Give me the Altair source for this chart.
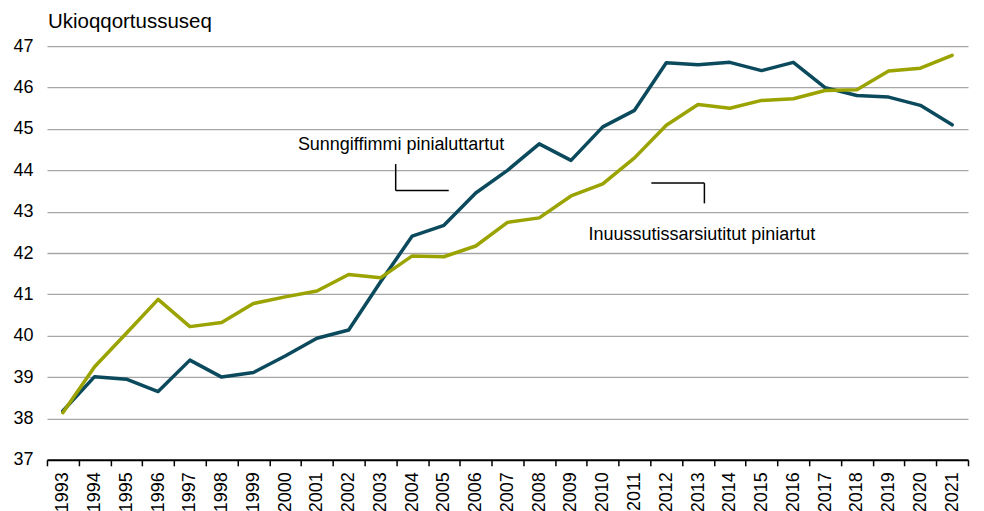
import altair as alt
import pandas as pd

years = list(range(1993, 2022))
teal_vals = [38.18, 39.01, 38.95, 38.65, 39.41, 39.00, 39.11, 39.51, 39.94, 40.14,
             41.30, 42.41, 42.67, 43.45, 44.00, 44.64, 44.24, 45.05, 45.45, 46.60,
             46.55, 46.61, 46.41, 46.61, 46.00, 45.81, 45.77, 45.57, 45.10]
green_vals = [38.14, 39.25, 40.06, 40.88, 40.22, 40.32, 40.78, 40.94, 41.08, 41.48,
              41.40, 41.93, 41.91, 42.17, 42.74, 42.85, 43.38, 43.67, 44.30, 45.09,
              45.59, 45.50, 45.69, 45.73, 45.93, 45.95, 46.40, 46.47, 46.78]

series_names = ["Sunngiffimmi pinialuttartut", "Inuussutissarsiutitut piniartut"]
series_colors = ["#0b4a5c", "#9aa300"]

y_title = "Ukioqqortussuseq"

# annotation labels (data coordinates: year, value)
label_x = [2003.65, 2013.12]
label_y = [44.60, 42.43]

# leader lines (data coordinates)
seg_x = [2003.48, 2003.48, 2011.53, 2013.20]
seg_x2 = [2003.48, 2005.15, 2013.20, 2013.20]
seg_y = [44.15, 43.51, 43.69, 43.69]
seg_y2 = [43.51, 43.51, 43.69, 43.20]

df = pd.DataFrame({
    "year": [str(y) for y in years] * 2,
    "value": teal_vals + green_vals,
    "series": [series_names[0]] * len(years) + [series_names[1]] * len(years),
    "order": [0] * len(years) + [1] * len(years),
})

font = "Liberation Sans"

x_band = alt.X(
    "year:O",
    scale=alt.Scale(paddingInner=0, paddingOuter=0),
    axis=alt.Axis(
        title=None, labelAngle=-90, labelFontSize=18, labelFont=font, labelColor="#000",
        labelPadding=6, tickBand="extent", tickColor="#000", tickSize=6, tickWidth=1.5,
        domainColor="#000", domainWidth=2, grid=False, labelBaseline="middle",
        labelAlign="right",
    ),
)

y_enc = alt.Y(
    "value:Q",
    scale=alt.Scale(domain=[37, 47], nice=False, zero=False),
    axis=alt.Axis(
        title=None, values=list(range(37, 48)), labelFontSize=18, labelFont=font,
        labelColor="#000", domain=False, ticks=False, labelPadding=14,
        gridColor="#a6a6a6", gridWidth=1.3,
    ),
)

color_enc = alt.Color("series:N", scale=alt.Scale(domain=series_names, range=series_colors), legend=None)

teal_line = alt.Chart(df[df["order"] == 0]).mark_line(
    strokeWidth=3.5, strokeCap="round", strokeJoin="round"
).encode(x=x_band, y=y_enc, color=color_enc)

green_line = alt.Chart(df[df["order"] == 1]).mark_line(
    strokeWidth=3.5, strokeCap="round", strokeJoin="round"
).encode(x=x_band, y=y_enc, color=color_enc)

lines = alt.layer(teal_line, green_line)

xq = alt.Scale(domain=[1992.5, 2021.5], nice=False, zero=False)
yq = alt.Scale(domain=[37, 47], nice=False, zero=False)

lab_df = pd.DataFrame({"x": label_x, "y": label_y, "text": series_names})
labels = alt.Chart(lab_df).mark_text(
    fontSize=18, font=font, color="#000", align="center", baseline="middle"
).encode(
    x=alt.X("x:Q", scale=xq, axis=None),
    y=alt.Y("y:Q", scale=yq, axis=None),
    text="text:N",
)

seg_df = pd.DataFrame({"x": seg_x, "x2": seg_x2, "y": seg_y, "y2": seg_y2})
segs = alt.Chart(seg_df).mark_rule(color="#000", strokeWidth=1.5).encode(
    x=alt.X("x:Q", scale=xq, axis=None),
    x2="x2:Q",
    y=alt.Y("y:Q", scale=yq, axis=None),
    y2="y2:Q",
)

annot = alt.layer(segs, labels)

chart = alt.layer(lines, annot).resolve_scale(x="independent", y="independent").properties(
    width=922,
    height=414,
    autosize="none",
    padding={"left": 39, "top": 38, "right": 8, "bottom": 60},
    title=alt.TitleParams(
        y_title, anchor="start", frame="group", fontSize=20.5, font=font,
        fontWeight="normal", color="#000", offset=5, dx=1,
    ),
).configure_view(stroke=None)

chart.save("out.html", embed_options={"renderer": "svg", "actions": False})
